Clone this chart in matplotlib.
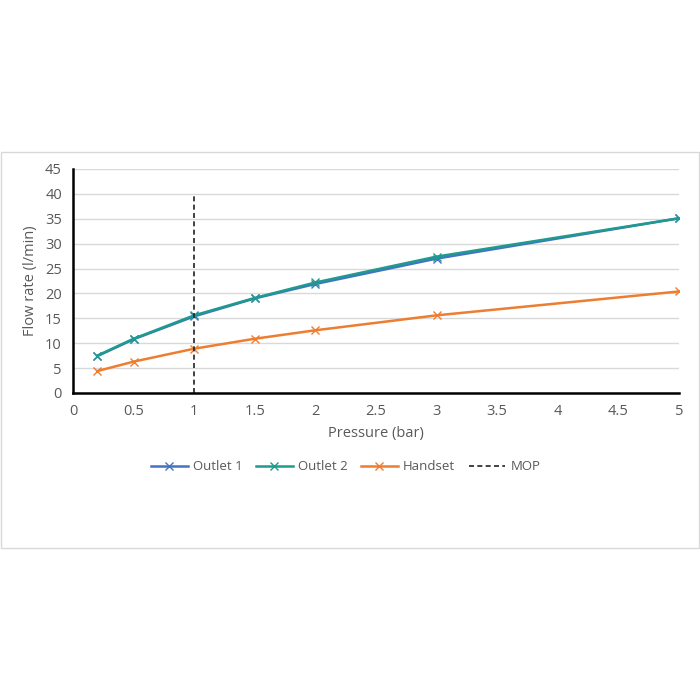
import matplotlib.pyplot as plt
from matplotlib.patches import Rectangle

# 数据
pressure = [0.2, 0.5, 1, 1.5, 2, 3, 5]
outlet1 = [7.4, 10.8, 15.4, 19.0, 21.9, 27.0, 35.1]
outlet2 = [7.5, 10.9, 15.6, 19.1, 22.2, 27.4, 35.1]
handset = [4.4, 6.3, 8.9, 10.9, 12.6, 15.6, 20.4]
mop_x = 1
mop_top = 40
x_ticks = [0, 0.5, 1, 1.5, 2, 2.5, 3, 3.5, 4, 4.5, 5]
y_ticks = [0, 5, 10, 15, 20, 25, 30, 35, 40, 45]

plt.rcParams['font.family'] = ['Open Sans', 'DejaVu Sans']
grey = '#595959'

fig = plt.figure(figsize=(7, 7), dpi=100)
fig.patches.append(Rectangle((1 / 700, 1 - 548 / 700), 698 / 700, 396 / 700,
                             transform=fig.transFigure, fill=False,
                             edgecolor='#d9d9d9', linewidth=1))
ax = fig.add_axes([73 / 700, 1 - 393 / 700, 606 / 700, 224 / 700])

ax.plot(pressure, outlet1, color='#4472C4', marker='x', markersize=6, linewidth=1.8, label='Outlet 1')
ax.plot(pressure, outlet2, color='#1E9A8E', marker='x', markersize=6, linewidth=1.8, label='Outlet 2')
ax.plot(pressure, handset, color='#ED7D31', marker='x', markersize=6, linewidth=1.8, label='Handset')
ax.plot([mop_x, mop_x], [0, mop_top], color='#222222', linestyle=(0, (3, 2)), linewidth=1.2, label='MOP')

ax.set_xlim(0, 5)
ax.set_ylim(0, 45)
ax.set_xticks(x_ticks)
ax.set_xticklabels([f'{t:g}' for t in x_ticks])
ax.set_yticks(y_ticks)
ax.grid(axis='y', color='#d9d9d9', linewidth=1)
ax.set_axisbelow(True)
ax.tick_params(length=0, labelsize=10.5, labelcolor=grey, pad=8)
for s in ['top', 'right']:
    ax.spines[s].set_visible(False)
for s in ['left', 'bottom']:
    ax.spines[s].set_color('black')
    ax.spines[s].set_linewidth(1.8)

ax.set_xlabel('Pressure (bar)', fontsize=10.5, color=grey, labelpad=5)
ax.set_ylabel('Flow rate (l/min)', fontsize=10.5, color=grey, labelpad=5)

ax.legend(loc='center', bbox_to_anchor=(0.45, -0.33), ncol=4, frameon=False,
          fontsize=9.5, labelcolor=grey, handlelength=2.8, columnspacing=1.0, handletextpad=0.4)

plt.savefig('out.png', dpi=100)
